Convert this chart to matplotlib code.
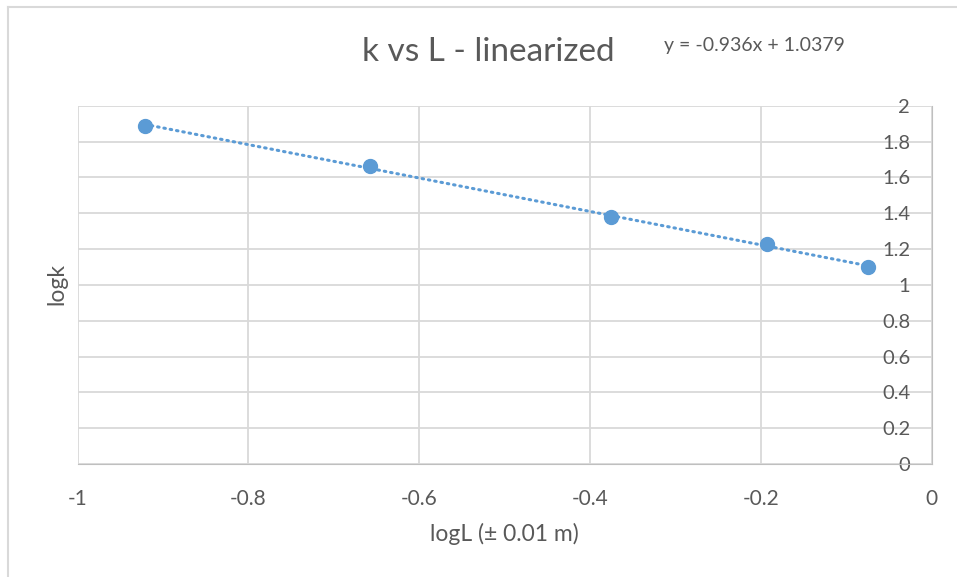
import numpy as np
import matplotlib
matplotlib.use("Agg")
import matplotlib.pyplot as plt
from matplotlib.lines import Line2D

# data
logL = [-0.921, -0.658, -0.376, -0.193, -0.075]
logk = [1.888, 1.665, 1.377, 1.226, 1.101]
equation = "y = -0.936x + 1.0379"

x_ticks = [-1, -0.8, -0.6, -0.4, -0.2, 0]
x_labels = ["-1", "-0.8", "-0.6", "-0.4", "-0.2", "0"]
y_ticks = [0, 0.2, 0.4, 0.6, 0.8, 1, 1.2, 1.4, 1.6, 1.8, 2]
y_labels = ["0", "0.2", "0.4", "0.6", "0.8", "1", "1.2", "1.4", "1.6", "1.8", "2"]

blue = "#5B9BD5"
txt = "#595959"
grid_c = "#D9D9D9"

plt.rcParams["font.family"] = ["Lato", "DejaVu Sans"]

fig = plt.figure(figsize=(9.57, 5.77), dpi=100)
W, H = 957, 577
ax = fig.add_axes([77.5 / W, 1 - 464 / H, (931.7 - 77.5) / W, (464 - 105.7) / H])

# trendline (linear fit)
coef = np.polyfit(logL, logk, 1)
xs = np.array([logL[0], logL[-1]])
ax.plot(xs, np.polyval(coef, xs), color=blue, lw=2.2, ls=(0, (0.5, 1.6)),
        dash_capstyle="round", zorder=3)
ax.plot(logL, logk, "o", color=blue, ms=10, zorder=4, clip_on=False)

ax.set_xlim(-1, 0)
ax.set_ylim(0, 2)
ax.set_xticks(x_ticks)
ax.set_xticklabels(x_labels)
ax.set_yticks(y_ticks)
ax.set_yticklabels(y_labels)
ax.grid(True, color=grid_c, lw=1.3)
ax.set_axisbelow(True)

# y axis sits at x = 0 (right edge), labels on its left like Excel
ax.spines["left"].set_position(("data", 0))
ax.spines["left"].set_color("#BFBFBF")
ax.spines["bottom"].set_color("#BFBFBF")
ax.spines["top"].set_visible(False)
ax.spines["right"].set_visible(False)
ax.tick_params(axis="y", length=0, pad=15.5, labelsize=14.5, labelcolor=txt)
ax.tick_params(axis="x", length=0, pad=18, labelsize=15, labelcolor=txt)

ax.set_xlabel("logL (± 0.01 m)", fontsize=16.5, color=txt, labelpad=10)
fig.text(57 / W, 1 - 284 / H, "logk", rotation=90, fontsize=16.5, color=txt,
         ha="center", va="center")

fig.text(488 / W, 1 - 52 / H, "k vs L - linearized", fontsize=24, color=txt,
         ha="center", va="center")
fig.text(664 / W, 1 - 45 / H, equation, fontsize=14, color=txt,
         ha="left", va="center")

# chart area border
fig.add_artist(Line2D([8 / W, 1], [1 - 7 / H, 1 - 7 / H], color=grid_c, lw=1.5))
fig.add_artist(Line2D([8 / W, 8 / W], [0, 1 - 7 / H], color=grid_c, lw=1.5))

fig.savefig("out.png", dpi=100, facecolor="white")
